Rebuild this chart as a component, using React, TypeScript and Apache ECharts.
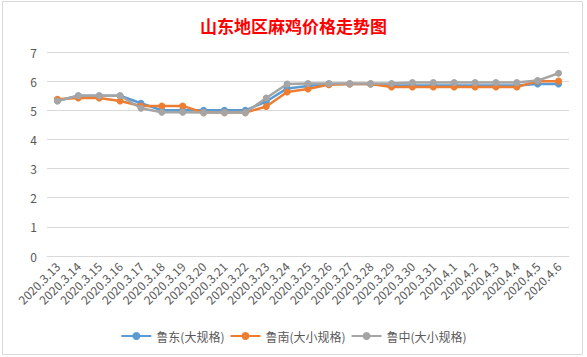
import React, { useEffect, useRef } from "react";
import * as echarts from "echarts";

const categories = [
  "2020.3.13", "2020.3.14", "2020.3.15", "2020.3.16", "2020.3.17", "2020.3.18", "2020.3.19",
  "2020.3.20", "2020.3.21", "2020.3.22", "2020.3.23", "2020.3.24", "2020.3.25", "2020.3.26",
  "2020.3.27", "2020.3.28", "2020.3.29", "2020.3.30", "2020.3.31", "2020.4.1", "2020.4.2",
  "2020.4.3", "2020.4.4", "2020.4.5", "2020.4.6",
];

const ludong = [5.33, 5.5, 5.5, 5.5, 5.24, 5.0, 5.0, 5.0, 5.0, 5.0, 5.3, 5.75, 5.83, 5.9, 5.9, 5.9, 5.85, 5.85, 5.85, 5.85, 5.85, 5.85, 5.85, 5.9, 5.9];
const lunan = [5.38, 5.42, 5.42, 5.32, 5.15, 5.15, 5.15, 4.92, 4.92, 4.92, 5.13, 5.63, 5.73, 5.88, 5.9, 5.9, 5.8, 5.8, 5.8, 5.8, 5.8, 5.8, 5.8, 6.0, 6.0];
const luzhong = [5.32, 5.5, 5.5, 5.5, 5.07, 4.93, 4.93, 4.92, 4.92, 4.92, 5.42, 5.9, 5.92, 5.92, 5.92, 5.92, 5.92, 5.95, 5.95, 5.95, 5.95, 5.95, 5.95, 6.02, 6.27];

const seriesNames = ["鲁东(大规格)", "鲁南(大小规格)", "鲁中(大小规格)"];
const seriesColors = ["#5B9BD5", "#ED7D31", "#A5A5A5"];
const yTicks = { min: 0, max: 7, interval: 1 };

export default function App() {
  const ref = useRef<HTMLDivElement>(null);
  useEffect(() => {
    if (!ref.current) return;
    const chart = echarts.init(ref.current, null, { renderer: "svg" });
    const font = "'Noto Sans CJK SC', 'Noto Sans', sans-serif";
    const data = [ludong, lunan, luzhong];
    chart.setOption({
      animation: false,
      backgroundColor: "#ffffff",
      textStyle: { fontFamily: font },
      title: {
        text: "山东地区麻鸡价格走势图",
        left: "center",
        top: 12,
        textStyle: { color: "#FF0000", fontSize: 17, fontWeight: "bold", fontFamily: font },
      },
      graphic: [
        {
          type: "rect",
          shape: { x: 2.5, y: 1.5, width: 580, height: 353 },
          style: { fill: "none", stroke: "#D9D9D9", lineWidth: 1 },
          silent: true,
        },
      ],
      legend: {
        data: seriesNames,
        left: "center",
        top: 325,
        itemWidth: 30,
        itemHeight: 10,
        itemGap: 5,
        textStyle: { color: "#595959", fontSize: 12, fontFamily: font },
      },
      grid: { left: 47, right: 18, top: 52, bottom: 101, containLabel: false },
      xAxis: {
        type: "category",
        data: categories,
        boundaryGap: true,
        axisLine: { lineStyle: { color: "#D9D9D9" } },
        axisTick: { show: false },
        axisLabel: { rotate: 45, color: "#595959", fontSize: 12, margin: 8, interval: 0, fontFamily: font },
      },
      yAxis: {
        type: "value",
        min: yTicks.min,
        max: yTicks.max,
        interval: yTicks.interval,
        axisLine: { show: false },
        axisTick: { show: false },
        axisLabel: { color: "#595959", fontSize: 12, margin: 10, fontFamily: font },
        splitLine: { lineStyle: { color: "#D9D9D9" } },
      },
      series: seriesNames.map((name, i) => ({
        name,
        type: "line",
        data: data[i],
        symbol: "circle",
        symbolSize: 7,
        lineStyle: { width: 2.5, color: seriesColors[i] },
        itemStyle: { color: seriesColors[i] },
        z: 2 + i,
      })),
    });
    return () => chart.dispose();
  }, []);
  return (
    <div
      ref={ref}
      style={{ position: "fixed", left: 0, top: 0, width: 587, height: 357 }}
    />
  );
}
